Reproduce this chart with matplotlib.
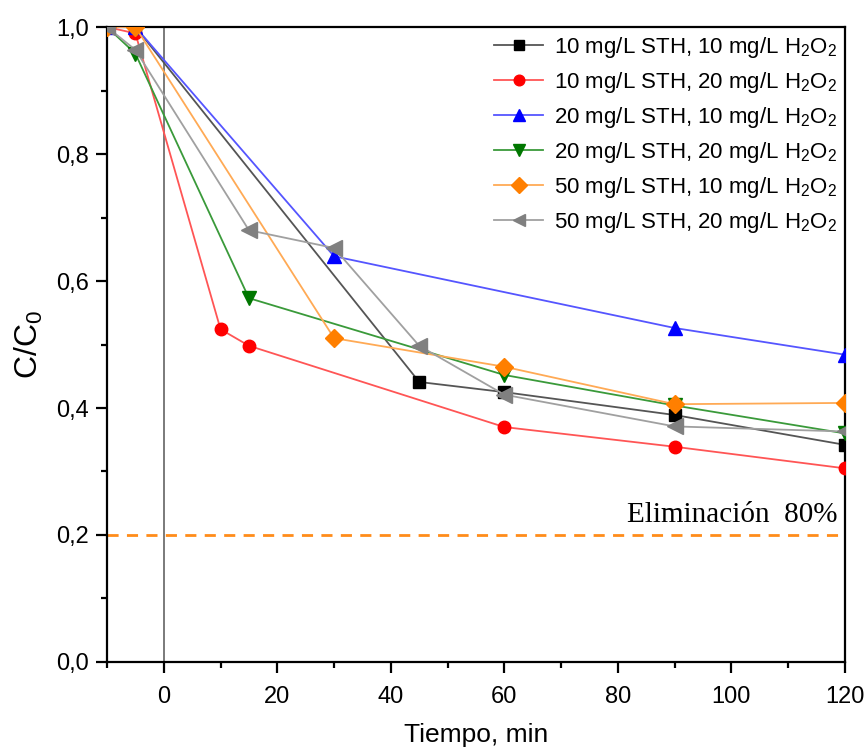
import matplotlib
matplotlib.use("Agg")
import matplotlib.pyplot as plt
from matplotlib.ticker import MultipleLocator, FuncFormatter

plt.rcParams['font.family'] = ['Liberation Sans', 'DejaVu Sans']
plt.rcParams['mathtext.fontset'] = 'custom'
plt.rcParams['mathtext.rm'] = 'Liberation Sans'
plt.rcParams['mathtext.it'] = 'Liberation Sans:italic'

labels = [
    "10 mg/L STH, 10 mg/L H$_2$O$_2$",
    "10 mg/L STH, 20 mg/L H$_2$O$_2$",
    "20 mg/L STH, 10 mg/L H$_2$O$_2$",
    "20 mg/L STH, 20 mg/L H$_2$O$_2$",
    "50 mg/L STH, 10 mg/L H$_2$O$_2$",
    "50 mg/L STH, 20 mg/L H$_2$O$_2$",
]

x1 = [-10, -5, 45, 60, 90, 120]
y1 = [1.0, 1.0, 0.441, 0.425, 0.389, 0.342]
x2 = [-10, -5, 10, 15, 60, 90, 120]
y2 = [1.0, 0.99, 0.524, 0.498, 0.370, 0.339, 0.305]
x3 = [-10, -5, 30, 90, 120]
y3 = [1.0, 1.0, 0.639, 0.526, 0.484]
x4 = [-10, -5, 15, 60, 90, 120]
y4 = [1.0, 0.958, 0.573, 0.452, 0.404, 0.360]
x5 = [-10, -5, 30, 60, 90, 120]
y5 = [1.0, 1.0, 0.510, 0.465, 0.406, 0.408]
x6 = [-10, -5, 15, 30, 45, 60, 90, 120]
y6 = [1.0, 0.964, 0.680, 0.652, 0.498, 0.421, 0.371, 0.363]

xs = [x1, x2, x3, x4, x5, x6]
ys = [y1, y2, y3, y4, y5, y6]
marker_colors = ['#000000', '#ff0000', '#0000ff', '#007700', '#ff7f00', '#808080']
line_colors = ['#555555', '#ff5555', '#5555ff', '#3a9a3a', '#ffaa55', '#a0a0a0']
markers = ['s', 'o', '^', 'v', 'D', '<']
msizes = [8, 9, 10, 10, 9, 11]

fig = plt.figure(figsize=(8.66, 7.55), dpi=100)
ax = fig.add_axes([0.1236, 0.1232, 0.852, 0.841])

ax.axvline(0, color='#707070', lw=1.3, zorder=1)
ax.axhline(0.2, color='#ff8c1a', lw=2, ls=(0, (4, 3)), zorder=1)
ax.text(118.7, 0.220, "Eliminación  80%", family='Liberation Serif', fontsize=21,
        ha='right', va='baseline')

for x, y, mc, lc, m, ms, lab in zip(xs, ys, marker_colors, line_colors, markers, msizes, labels):
    ax.plot(x, y, color=lc, lw=1.3, marker=m, markersize=ms,
            markerfacecolor=mc, markeredgecolor=mc, label=lab, zorder=3)

ax.set_xlim(-10, 120)
ax.set_ylim(0, 1.0)
ax.xaxis.set_major_locator(MultipleLocator(20))
ax.xaxis.set_minor_locator(MultipleLocator(10))
ax.yaxis.set_major_locator(MultipleLocator(0.2))
ax.yaxis.set_minor_locator(MultipleLocator(0.1))
ax.yaxis.set_major_formatter(FuncFormatter(lambda v, p: f"{v:.1f}".replace('.', ',')))
ax.tick_params(which='major', direction='out', length=8, width=1.6, labelsize=17, pad=5)
ax.tick_params(axis='x', which='major', pad=9)
ax.tick_params(which='minor', direction='out', length=4.5, width=1.6)
for s in ax.spines.values():
    s.set_linewidth(1.6)

ax.set_xlabel("Tiempo, min", fontsize=19, labelpad=11)
ax.set_ylabel("C/C$_0$", fontsize=23, labelpad=8)

leg = ax.legend(loc='upper right', frameon=False, fontsize=16, handlelength=2.2,
                handletextpad=0.5, labelspacing=0.45, borderaxespad=0.1,
                borderpad=0.25, bbox_to_anchor=(1.0, 1.0), markerscale=0.85)

fig.savefig("out.png", dpi=100)
